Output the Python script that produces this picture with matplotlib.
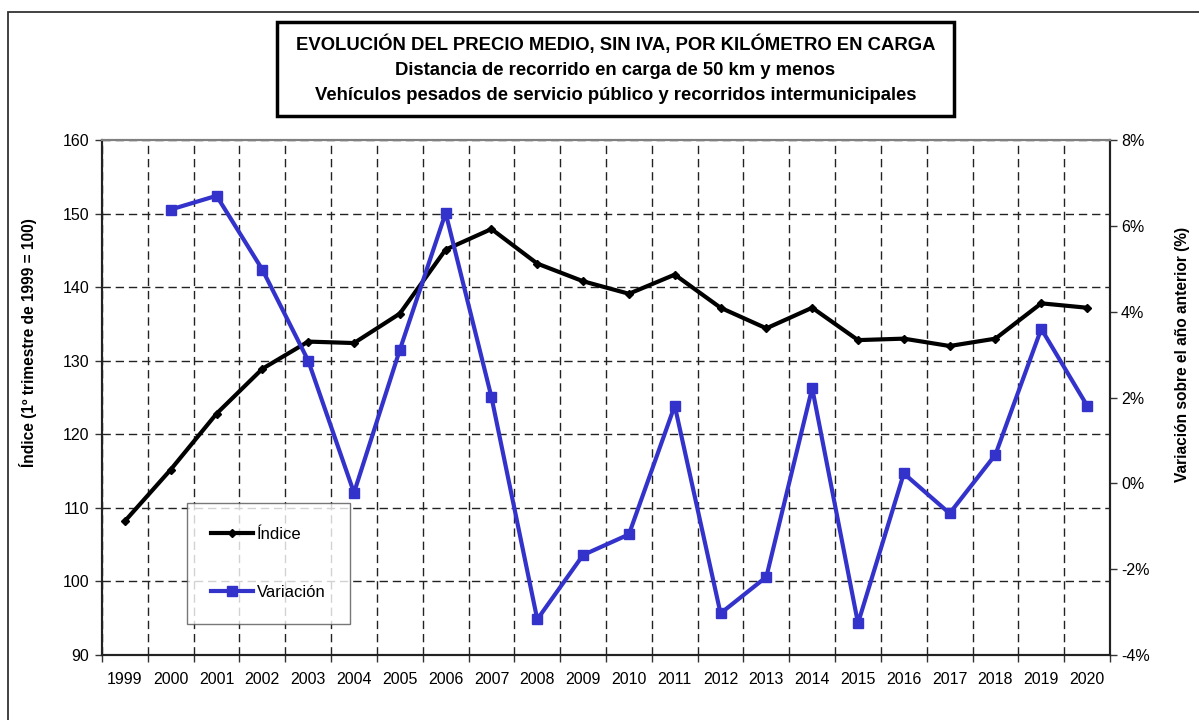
import matplotlib
matplotlib.use("Agg")
import matplotlib.pyplot as plt
import matplotlib.patches as mpatches
from matplotlib.ticker import PercentFormatter, FixedLocator
import numpy as np

plt.rcParams['font.family'] = ['Liberation Sans', 'DejaVu Sans']
plt.rcParams['axes.unicode_minus'] = False

years = [str(y) for y in range(1999, 2021)]
indice = [108.2, 115.2, 122.8, 128.9, 132.6, 132.4, 136.4, 145.1, 147.9, 143.2,
          140.8, 139.1, 141.7, 137.2, 134.4, 137.2, 132.8, 133.0, 132.0, 133.0,
          137.8, 137.2]
var_years = [str(y) for y in range(2000, 2021)]
variacion = [6.38, 6.70, 4.98, 2.86, -0.22, 3.11, 6.30, 2.01, -3.17, -1.67,
             -1.19, 1.81, -3.03, -2.18, 2.22, -3.26, 0.23, -0.70, 0.67, 3.60,
             1.81]

title_lines = ["EVOLUCIÓN DEL PRECIO MEDIO, SIN IVA, POR KILÓMETRO EN CARGA",
               "Distancia de recorrido en carga de 50 km y menos",
               "Vehículos pesados de servicio público y recorridos intermunicipales"]

W, H = 1199, 720
fig = plt.figure(figsize=(W / 100, H / 100), dpi=100)

def fx(px):
    return px / W

def fy(py):
    return 1 - py / H

# outer chart border
fig.patches.append(mpatches.Rectangle((fx(8), fy(730)), fx(1200) - fx(8), fy(12) - fy(730),
                                      transform=fig.transFigure, fill=False,
                                      edgecolor='#333333', linewidth=1.3))

ax = fig.add_axes([fx(102), fy(655), fx(1110) - fx(102), fy(140) - fy(655)])
ax2 = ax.twinx()

xi = np.arange(len(years))
xv = np.array([years.index(y) for y in var_years])

ax.set_xlim(-0.5, len(years) - 0.5)
ax.set_ylim(90, 160)
ax.set_yticks(np.arange(90, 161, 10))
ax2.set_ylim(-4, 8)
ax2.set_yticks(np.arange(-4, 9, 2))
ax2.yaxis.set_major_formatter(PercentFormatter(decimals=0))

ax.set_xticks(xi)
ax.set_xticklabels(years)
ax.xaxis.set_minor_locator(FixedLocator(np.arange(-0.5, len(years), 1)))
ax.tick_params(axis='x', which='major', length=0, pad=12, labelsize=11.5)
ax.tick_params(axis='x', which='minor', length=5, width=1, color='#333333')
ax.tick_params(axis='y', length=5, width=1, labelsize=11.5, pad=4, color='#333333')
ax2.tick_params(axis='y', length=5, width=1, labelsize=11.5, pad=3, color='#333333')

ax.grid(True, which='minor', axis='x', color='#222222', linestyle=(0, (6, 3.5)), linewidth=1)
ax.grid(True, which='major', axis='y', color='#222222', linestyle=(0, (6, 3.5)), linewidth=1)
ax.set_axisbelow(True)

for a in (ax, ax2):
    a.spines['top'].set_color('#808080')
    a.spines['top'].set_linewidth(1.5)
    for s in ('left', 'bottom', 'right'):
        a.spines[s].set_color('#222222')
        a.spines[s].set_linewidth(1.5)

l1, = ax.plot(xi, indice, color='black', linewidth=3, marker='D', markersize=4.5,
              label='Índice', zorder=3)
l2, = ax2.plot(xv, variacion, color='#3333CC', linewidth=3, marker='s', markersize=6.5,
               label='Variación', zorder=3)

leg = ax2.legend(handles=[l1, l2], loc='upper left',
                 bbox_to_anchor=(fx(187), fy(503)), bbox_transform=fig.transFigure,
                 fontsize=12, frameon=True, fancybox=False, edgecolor='#555555',
                 borderpad=1.45, labelspacing=2.55, handlelength=2.5, handletextpad=0.25,
                 numpoints=1, borderaxespad=0)
leg.get_frame().set_linewidth(1)

# axis titles
fig.text(fx(28), fy(343), 'Índice (1º trimestre de 1999 = 100)', rotation=90,
         ha='center', va='center', fontsize=11.2, fontweight='bold')
fig.text(fx(1182), fy(354), 'Variación sobre el año anterior (%)', rotation=90,
         ha='center', va='center', fontsize=11.2, fontweight='bold')

# title box
fig.patches.append(mpatches.Rectangle((fx(277), fy(116)), fx(954) - fx(277), fy(22) - fy(116),
                                      transform=fig.transFigure, fill=False,
                                      edgecolor='black', linewidth=2.5))
for t, py in zip(title_lines, [50, 75, 100]):
    fig.text(fx(615.5), fy(py), t, ha='center', va='baseline', fontsize=13.3,
             fontweight='bold')

fig.savefig('out.png', dpi=100)
